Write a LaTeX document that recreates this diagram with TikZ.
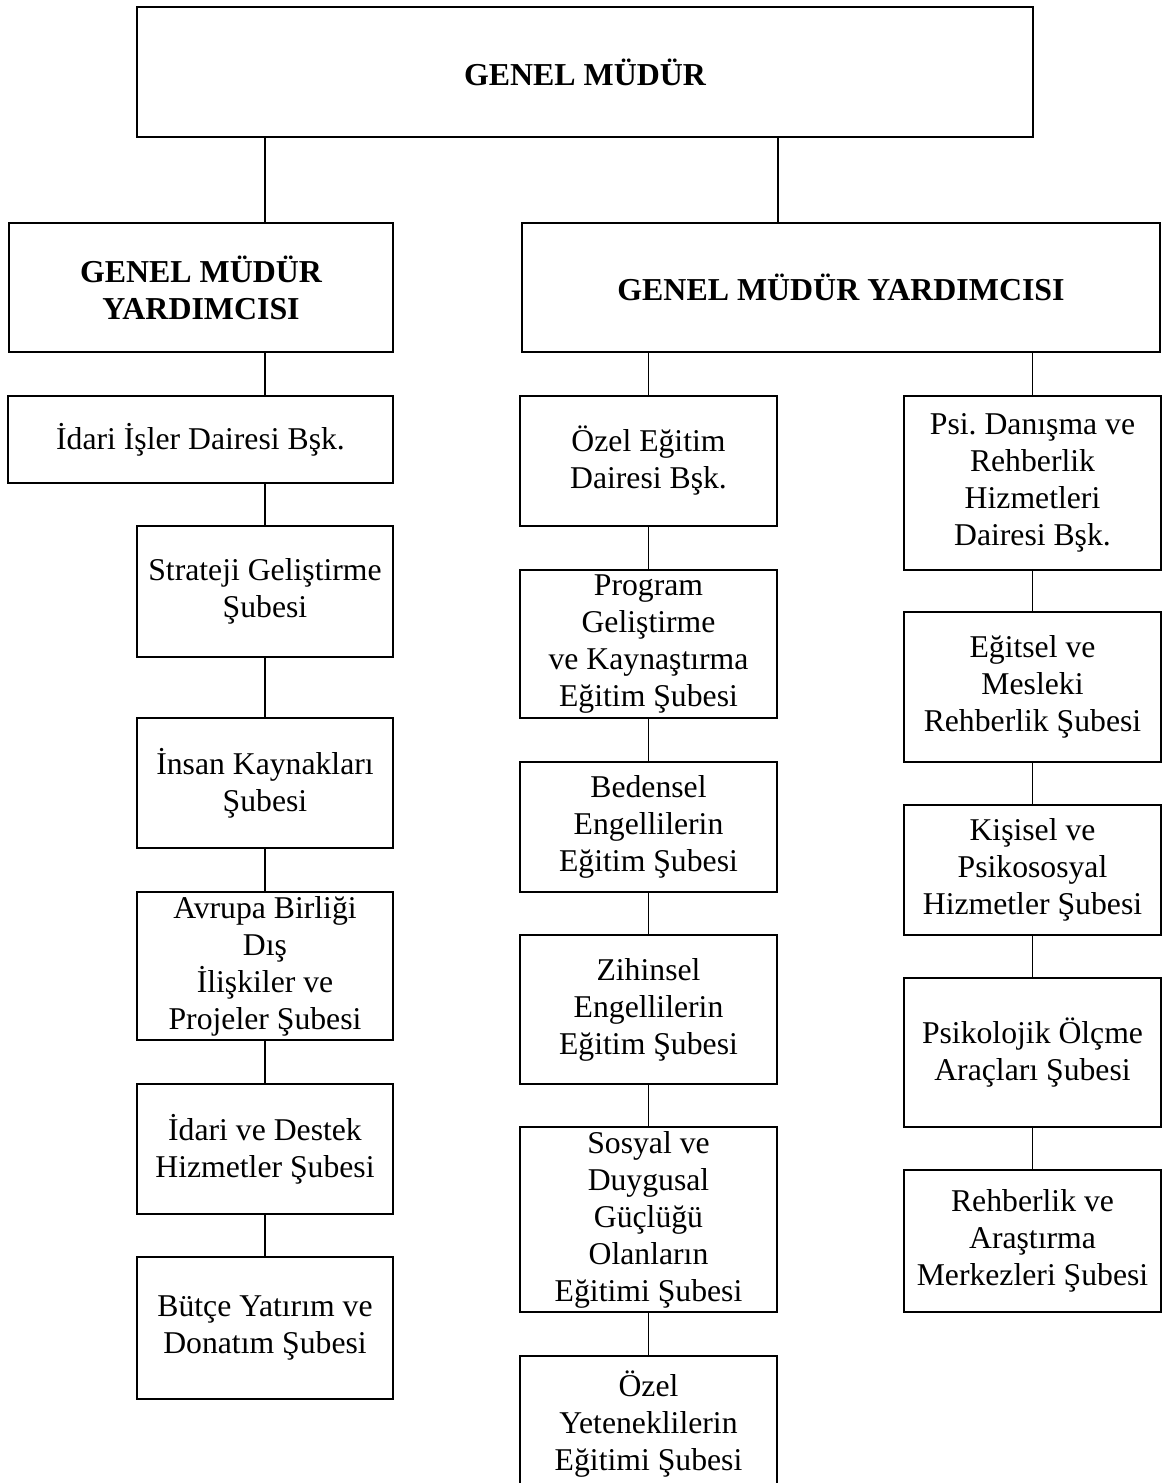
\documentclass[tikz,border=0pt]{standalone}
\usepackage{fontspec}
\setmainfont{Liberation Serif}
\frenchspacing
\begin{document}
\begin{tikzpicture}[x=1pt,y=-1pt,
  box/.style={draw, line width=2.2pt, inner sep=0pt, align=center,
    font=\fontsize{31.7}{37}\selectfont\frenchspacing},
  bbox/.style={box, font=\fontsize{31.9}{37}\selectfont\bfseries},
  link/.style={line width=1.8pt}]
\useasboundingbox (0,0) rectangle (1162,1483);
\clip (0,0) rectangle (1162,1483);
% top levels
\node[bbox, minimum width=896pt, minimum height=130pt] (top) at (585,72) {GENEL MÜDÜR};
\node[bbox, minimum width=384pt, minimum height=129pt] (gmyL) at (201,287.5) {GENEL MÜDÜR\\YARDIMCISI};
\node[bbox, minimum width=638pt, minimum height=129pt] (gmyR) at (841,287.5) {GENEL MÜDÜR YARDIMCISI};
% left column
\node[box, minimum width=385pt, minimum height=87pt] (idari) at (200.5,439.5) {İdari İşler Dairesi Bşk.};
\node[box, minimum width=256pt, minimum height=131pt] (strat) at (265,591.5) {Strateji Geliştirme\\Şubesi};
\node[box, minimum width=256pt, minimum height=130pt] (insan) at (265,783) {İnsan Kaynakları\\Şubesi};
\node[box, minimum width=256pt, minimum height=148pt] (avrupa) at (265,966) {Avrupa Birliği\\Dış\\İlişkiler ve\\Projeler Şubesi};
\node[box, minimum width=256pt, minimum height=130pt] (destek) at (265,1149) {İdari ve Destek\\Hizmetler Şubesi};
\node[box, minimum width=256pt, minimum height=142pt] (butce) at (265,1328) {Bütçe Yatırım ve\\Donatım Şubesi};
% middle column
\node[box, minimum width=257pt, minimum height=130pt] (ozel) at (648.5,461) {Özel Eğitim\\Dairesi Bşk.};
\node[box, minimum width=257pt, minimum height=148pt] (prog) at (648.5,644) {Program\\Geliştirme\\ve Kaynaştırma\\Eğitim Şubesi};
\node[box, minimum width=257pt, minimum height=130pt] (beden) at (648.5,827) {Bedensel\\Engellilerin\\Eğitim Şubesi};
\node[box, minimum width=257pt, minimum height=149pt] (zihin) at (648.5,1009.5) {Zihinsel\\Engellilerin\\Eğitim Şubesi};
\node[box, minimum width=257pt, minimum height=185pt] (sosyal) at (648.5,1219.5) {Sosyal ve\\Duygusal\\Güçlüğü\\Olanların\\Eğitimi Şubesi};
\node[box, minimum width=257pt, minimum height=136pt] (yetenek) at (648.5,1424) {Özel\\Yeteneklilerin\\Eğitimi Şubesi};
% right column
\node[box, minimum width=257pt, minimum height=174pt] (psi) at (1032.5,483) {Psi. Danışma ve\\Rehberlik\\Hizmetleri\\Dairesi Bşk.};
\node[box, minimum width=257pt, minimum height=150pt] (egitsel) at (1032.5,687) {Eğitsel ve\\Mesleki\\Rehberlik Şubesi};
\node[box, minimum width=257pt, minimum height=130pt] (kisisel) at (1032.5,870) {Kişisel ve\\Psikososyal\\Hizmetler Şubesi};
\node[box, minimum width=257pt, minimum height=149pt] (olcme) at (1032.5,1052.5) {Psikolojik Ölçme\\Araçları Şubesi};
\node[box, minimum width=257pt, minimum height=142pt] (rehber) at (1032.5,1241) {Rehberlik ve\\Araştırma\\Merkezleri Şubesi};
% connectors
\draw[link] (top.south -| strat.north) -- (gmyL.north -| strat.north);
\draw[link] (top.south -| ozel.east) -- (gmyR.north -| ozel.east);
\draw[link] (gmyL.south -| strat.north) -- (idari.north -| strat.north);
\draw[link] (idari.south -| strat.north) -- (strat.north);
\draw[link] (strat.south) -- (insan.north);
\draw[link] (insan.south) -- (avrupa.north);
\draw[link] (avrupa.south) -- (destek.north);
\draw[link] (destek.south) -- (butce.north);
\draw[link] (gmyR.south -| ozel.north) -- (ozel.north);
\draw[link] (ozel.south) -- (prog.north);
\draw[link] (prog.south) -- (beden.north);
\draw[link] (beden.south) -- (zihin.north);
\draw[link] (zihin.south) -- (sosyal.north);
\draw[link] (sosyal.south) -- (yetenek.north);
\draw[link] (gmyR.south -| psi.north) -- (psi.north);
\draw[link] (psi.south) -- (egitsel.north);
\draw[link] (egitsel.south) -- (kisisel.north);
\draw[link] (kisisel.south) -- (olcme.north);
\draw[link] (olcme.south) -- (rehber.north);
\end{tikzpicture}
\end{document}
